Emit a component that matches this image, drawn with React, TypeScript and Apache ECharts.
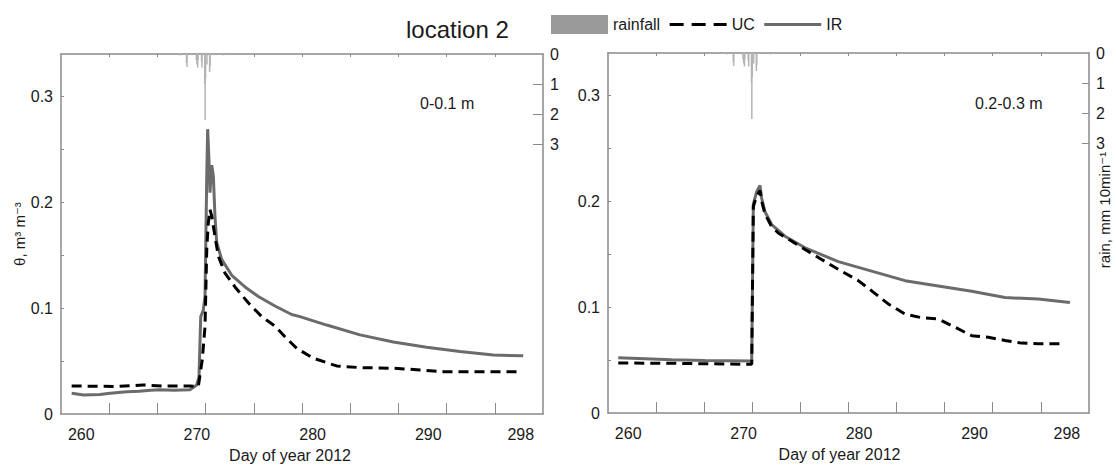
import React, { useEffect, useRef } from "react";
import * as echarts from "echarts";

// x axis: day of year 2012 (ticks every 600 ten-minute steps)
const X_MIN = 258.25;
const X_MAX = 299.92;
const xLabelValues = [260, 270, 280, 290, 298];
const xTickValues = [262.42, 266.58, 270.75, 274.92, 279.08, 283.25, 287.42, 291.58, 295.75];
const thetaLabelValues = [0, 0.1, 0.2, 0.3];
const thetaTickValues = [0.05, 0.1, 0.15, 0.2, 0.25, 0.3];
const rainLabelValues = [0, 1, 2, 3];
const rainTickValues = [1, 2, 3];

// rainfall, mm per 10 min
const rainDays = [268.55, 269.1, 269.15, 269.95, 270.0, 270.07, 270.1, 270.4, 270.44, 270.68, 270.71, 270.75, 270.87, 271.1, 271.14, 272.3];
const rainMm = [0.05, 0.3, 0.43, 0.2, 0.35, 0.45, 0.2, 0.25, 0.45, 1.0, 2.2, 0.8, 0.35, 0.6, 0.4, 0.05];

// 0-0.1 m
const irLeftDays = [259.17, 260.2, 261.62, 262.5, 263.93, 265.0, 266.0, 266.81, 268.0, 269.4, 269.98, 270.18, 270.33, 270.55, 270.7, 270.85, 270.93, 271.04, 271.13, 271.28, 271.42, 271.56, 271.71, 272.14, 273.01, 274.16, 275.31, 276.75, 278.19, 278.91, 281.22, 284.1, 286.98, 289.86, 292.74, 295.62, 298.21];
const irLeftTheta = [0.0196, 0.018, 0.0185, 0.0195, 0.021, 0.0215, 0.0225, 0.023, 0.0225, 0.023, 0.0274, 0.035, 0.092, 0.098, 0.111, 0.2245, 0.269, 0.24, 0.209, 0.235, 0.225, 0.187, 0.162, 0.146, 0.131, 0.12, 0.111, 0.102, 0.094, 0.092, 0.084, 0.0747, 0.068, 0.063, 0.059, 0.0558, 0.0549];
const ucLeftDays = [259.17, 263.0, 265.34, 267.0, 269.4, 270.12, 270.46, 270.7, 270.76, 270.85, 270.98, 271.13, 271.28, 271.56, 271.85, 272.43, 273.29, 274.44, 275.6, 276.75, 277.61, 278.63, 280.06, 282.08, 284.1, 286.98, 289.28, 291.3, 297.93];
const ucLeftTheta = [0.0265, 0.026, 0.0274, 0.0265, 0.0265, 0.026, 0.051, 0.0826, 0.111, 0.155, 0.18, 0.193, 0.187, 0.168, 0.149, 0.133, 0.12, 0.105, 0.092, 0.083, 0.073, 0.062, 0.0527, 0.0454, 0.0438, 0.0432, 0.0416, 0.04, 0.04];

// 0.2-0.3 m
const irRightDays = [259.14, 263.77, 266.65, 270.7, 270.84, 271.13, 271.42, 271.56, 271.85, 272.43, 273.58, 275.32, 278.2, 281.09, 283.98, 286.86, 289.76, 292.64, 295.52, 298.27];
const irRightTheta = [0.0522, 0.0504, 0.0497, 0.049, 0.197, 0.209, 0.215, 0.203, 0.19, 0.178, 0.167, 0.156, 0.143, 0.134, 0.125, 0.12, 0.115, 0.109, 0.1076, 0.1044];
const ucRightDays = [259.14, 263.77, 266.65, 270.7, 270.84, 271.13, 271.42, 271.56, 271.85, 272.43, 273.0, 275.32, 276.76, 278.2, 279.93, 281.09, 282.53, 283.98, 285.42, 286.86, 288.31, 289.76, 291.19, 292.64, 294.09, 295.52, 297.4];
const ucRightTheta = [0.0472, 0.047, 0.0465, 0.046, 0.195, 0.205, 0.21, 0.2, 0.188, 0.176, 0.17, 0.1545, 0.145, 0.1357, 0.125, 0.1154, 0.103, 0.0935, 0.09, 0.0888, 0.081, 0.073, 0.0716, 0.0685, 0.066, 0.0654, 0.0654];

const FONT = "'Liberation Sans', Arial, 'DejaVu Sans', sans-serif";
const AXIS_COLOR = "#8a8a8a";
const TEXT_COLOR = "#1a1a1a";
const IR_COLOR = "#6b6b6b";
const RAIN_COLOR = "#b4b4b4";

const zip = (xs: number[], ys: number[]) => xs.map((x, i) => [x, ys[i]]);

function bottomX(gridIndex: number, padRight: number) {
  return {
    type: "value",
    gridIndex,
    position: "bottom",
    min: X_MIN,
    max: X_MAX,
    name: "Day of year 2012",
    nameLocation: "middle",
    nameGap: 33,
    nameTextStyle: { fontSize: 16, color: TEXT_COLOR, fontFamily: FONT, padding: [0, padRight, 0, 0] },
    axisLine: { show: true, lineStyle: { color: AXIS_COLOR, width: 1.5 } },
    axisTick: { show: true, inside: true, length: 11, customValues: xTickValues, lineStyle: { color: AXIS_COLOR, width: 1 } },
    axisLabel: { show: true, margin: 12, fontSize: 16, color: TEXT_COLOR, fontFamily: FONT, customValues: xLabelValues, formatter: (v: number) => String(Math.round(v)) },
    splitLine: { show: false },
  };
}

function topX(gridIndex: number) {
  return {
    type: "value",
    gridIndex,
    position: "top",
    min: X_MIN,
    max: X_MAX,
    axisLine: { show: true, lineStyle: { color: AXIS_COLOR, width: 1.5 } },
    axisTick: { show: true, inside: true, length: 3, customValues: xTickValues, lineStyle: { color: AXIS_COLOR, width: 1 } },
    axisLabel: { show: false },
    splitLine: { show: false },
  };
}

function thetaY(gridIndex: number, withName: boolean) {
  return {
    type: "value",
    gridIndex,
    position: "left",
    min: 0,
    max: 0.34,
    name: withName ? "θ, m³ m⁻³" : "",
    nameLocation: "middle",
    nameRotate: 90,
    nameGap: 33,
    nameTextStyle: { fontSize: 15, color: TEXT_COLOR, fontFamily: FONT },
    axisLine: { show: true, lineStyle: { color: AXIS_COLOR, width: 1.5 } },
    axisTick: { show: true, inside: true, length: 3, customValues: thetaTickValues, lineStyle: { color: AXIS_COLOR, width: 1 } },
    axisLabel: { show: true, margin: 8, fontSize: 16, color: TEXT_COLOR, fontFamily: FONT, customValues: thetaLabelValues, formatter: (v: number) => (v === 0 ? "0" : v.toFixed(1)) },
    splitLine: { show: false },
  };
}

function rainY(gridIndex: number, tickLen: number) {
  return {
    type: "value",
    gridIndex,
    position: "right",
    min: 0,
    max: 12,
    inverse: true,
    axisLine: { show: true, lineStyle: { color: AXIS_COLOR, width: 1.5 } },
    axisTick: { show: true, inside: true, length: tickLen, customValues: rainTickValues, lineStyle: { color: AXIS_COLOR, width: 1 } },
    axisLabel: { show: true, margin: 7, fontSize: 16, color: TEXT_COLOR, fontFamily: FONT, customValues: rainLabelValues, formatter: (v: number) => String(Math.round(v)) },
    splitLine: { show: false },
  };
}

function panelSeries(xi: number, yTheta: number, yRain: number, ir: number[][], uc: number[][]) {
  return [
    {
      name: "rainfall",
      type: "bar",
      xAxisIndex: xi,
      yAxisIndex: yRain,
      barWidth: 1.5,
      itemStyle: { color: RAIN_COLOR },
      data: zip(rainDays, rainMm),
    },
    {
      name: "IR",
      type: "line",
      xAxisIndex: xi,
      yAxisIndex: yTheta,
      showSymbol: false,
      symbol: "none",
      lineStyle: { color: IR_COLOR, width: 3 },
      itemStyle: { color: IR_COLOR },
      data: ir,
    },
    {
      name: "UC",
      type: "line",
      xAxisIndex: xi,
      yAxisIndex: yTheta,
      showSymbol: false,
      symbol: "none",
      lineStyle: { color: "#000", width: 3, type: [10, 6] },
      itemStyle: { color: "#000" },
      data: uc,
    },
  ];
}

export default function App() {
  const ref = useRef<HTMLDivElement>(null);
  useEffect(() => {
    if (!ref.current) return;
    const chart = echarts.init(ref.current, null, { renderer: "svg" });
    chart.setOption({
      animation: false,
      backgroundColor: "#fff",
      textStyle: { fontFamily: FONT },
      title: {
        text: "location 2",
        left: 401,
        top: 12,
        textStyle: { fontSize: 24, fontWeight: "normal", color: TEXT_COLOR, fontFamily: FONT },
      },
      legend: {
        left: 546,
        top: 10,
        itemWidth: 57,
        itemHeight: 19,
        itemGap: 8,
        textStyle: { fontSize: 16, color: TEXT_COLOR, fontFamily: FONT },
        data: [
          { name: "rainfall", icon: "rect", itemStyle: { color: "#9a9a9a" } },
          { name: "UC", itemStyle: { opacity: 0 }, lineStyle: { type: [14, 8], width: 3, color: "#000" } },
          { name: "IR", itemStyle: { opacity: 0 }, lineStyle: { width: 3, color: IR_COLOR } },
        ],
      },
      grid: [
        { left: 61, top: 54, width: 482, height: 360 },
        { left: 608, top: 53, width: 481, height: 360 },
      ],
      xAxis: [bottomX(0, 24), topX(0), bottomX(1, 18), topX(1)],
      yAxis: [thetaY(0, true), rainY(0, 10), thetaY(1, false), rainY(1, 7)],
      series: [
        ...panelSeries(0, 0, 1, zip(irLeftDays, irLeftTheta), zip(ucLeftDays, ucLeftTheta)),
        ...panelSeries(2, 2, 3, zip(irRightDays, irRightTheta), zip(ucRightDays, ucRightTheta)),
      ],
      graphic: [
        { type: "text", left: 420, top: 95, style: { text: "0-0.1 m", fontSize: 16, fill: TEXT_COLOR, fontFamily: FONT } },
        { type: "text", left: 975, top: 95, style: { text: "0.2-0.3 m", fontSize: 16, fill: TEXT_COLOR, fontFamily: FONT } },
        {
          type: "text",
          x: 1104,
          y: 210,
          rotation: Math.PI / 2,
          style: { text: "rain, mm 10min⁻¹", fontSize: 15, fill: TEXT_COLOR, fontFamily: FONT, align: "center", verticalAlign: "middle" },
        },
      ],
    });
    return () => chart.dispose();
  }, []);
  return <div ref={ref} style={{ position: "fixed", left: 0, top: 0, width: 1116, height: 472 }} />;
}
